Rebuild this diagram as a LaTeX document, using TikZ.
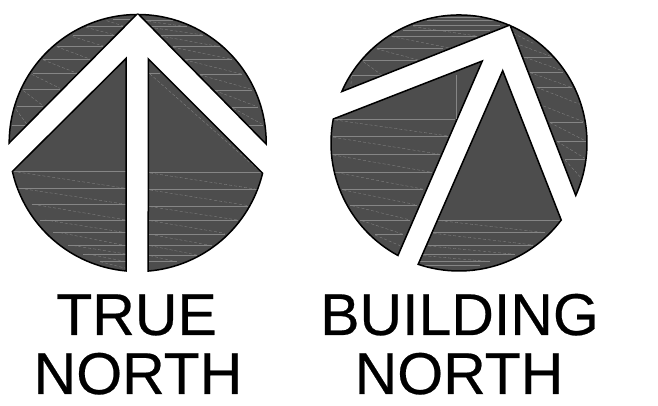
\documentclass[tikz,border=0pt]{standalone}
\usepackage{fontspec}
\setmainfont{Liberation Sans}
\newfontfamily\capfont[FakeBold=0.4]{Liberation Sans}
\tikzset{
  sector/.style={fill=sectorgrey,draw=black,line width=1.5pt,line join=miter},
  hair/.style={draw=hairgrey,line width=0.35pt},
  caption/.style={anchor=base,inner sep=0pt,font=\capfont\fontsize{59}{59}\selectfont}
}
\definecolor{sectorgrey}{HTML}{4D4D4D}
\definecolor{hairgrey}{HTML}{858585}
% #1 = origin shift for zoomed hairline coords, #2 = outline path, #3 = horizontals y/x1/x2, #4 = slants x1/y1/x2/y2
\newcommand{\sectorpiece}[4]{%
  \begin{scope}
    \clip #2;
    \fill[sectorgrey] #2;
    \begin{scope}[shift={(#1pt,406pt)},x=0.3333pt,y=-0.3333pt]
      \foreach \ya/\xa/\xb in {#3} {\draw[hair] (\xa,\ya) -- (\xb,\ya);}
      \foreach \xa/\ya/\xb/\yb in {#4} {\draw[hair,densely dashed] (\xa,\ya) -- (\xb,\yb);}
    \end{scope}
  \end{scope}
  \draw[sector,fill=none] #2;
}
\begin{document}
\begin{tikzpicture}[x=1pt,y=1pt]
\fill[white] (0,0) rectangle (658,406);
\useasboundingbox (0,0) rectangle (658,406);
\coordinate (cl) at (137.7,263);
\coordinate (cr) at (459,263);
% TRUE NORTH
\sectorpiece{0}{(cl)+(180:128.5) arc[start angle=180,end angle=90.5,radius=128.5] -- cycle}
 {375/35/80,320/50/130,268/70/180,220/100/230,178/130/270,138/170/310,107/220/345,78/260/370,58/340/390}
 {48/328/80/372,70/272/130/318,95/223/180/265,130/180/232/220,170/140/272/178,218/110/310/138,258/82/345/105,320/62/370/78}
\sectorpiece{0}{(cl)+(89.5:128.5) arc[start angle=89.5,end angle=-0.5,radius=128.5] -- cycle}
 {375/740/790,322/695/775,270/645/755,222/600/725,178/555/695,140/520/660,105/480/610,80/450/560,62/430/520}
 {700/325/785/372,645/272/772/320,600/225/755/268,555/180/725/222,520/142/695/178,480/108/660/140,450/82/610/105,430/62/560/80}
\sectorpiece{0}{(cl)+(192.8:128.5) arc[start angle=192.8,end angle=264.8,radius=128.5] -- (126,347.5) -- cycle}
 {514/38/378,565/55/378,613/95/378,660/120/378,698/160/378,737/205/378,762/250/378,785/300/378}
 {38/514/378/565,60/565/378/613,100/613/378/660,135/660/378/698,180/698/378/737,220/737/378/762,265/762/378/785,300/785/378/805}
\sectorpiece{0}{(cl)+(274.7:128.5) arc[start angle=274.7,end angle=346.4,radius=128.5] -- (148.3,347) -- cycle}
 {219/445/480,518/445/786,568/445/770,620/445/745,662/445/715,703/445/675,737/445/635,767/445/590,785/445/530}
 {450/222/770/505,450/519/765/567,450/570/745/617,450/620/712/660,450/662/675/700,450/703/635/737,450/737/590/765,450/767/530/785}
% BUILDING NORTH
\sectorpiece{320}{(cr)+(156.3:128) arc[start angle=156.3,end angle=66.9,radius=128] -- cycle}
 {225/95/185,180/130/290,145/170/370,108/215/470,90/250/510,75/280/540,60/320/540,52/350/520}
 {95/228/92/265,130/185/185/225,170/147/295/180,215/110/385/143,280/80/470/108}
\sectorpiece{320}{(cr)+(66.4:128) arc[start angle=66.4,end angle=-24.2,radius=128] -- cycle}
 {172/612/695,217/630/730,262/650/755,366/690/790,425/710/800,478/735/795}
 {580/100/640/130,600/135/695/170,615/172/730/213,630/218/755/262,650/262/780/313,670/318/790/365,690/368/797/423,712/425/795/475,735/480/780/530}
\sectorpiece{320}{(cr)+(169.2:128) arc[start angle=169.2,end angle=241.5,radius=128] -- (482.3,345) -- cycle}
 {357/40/405,410/40/385,463/35/360,517/45/335,568/65/310,615/90/290,660/120/270,703/165/250}
 {45/360/385/408,40/412/360/463,40/465/335/517,50/518/312/568,70/570/292/615,95/617/270/660,125/662/250/703,165/705/240/737}
\begin{scope}[shift={(320pt,406pt)},x=0.3333pt,y=-0.3333pt]
  \draw[hair] (410,225) -- (410,357);
\end{scope}
\sectorpiece{320}{(cr)+(251.4:128) arc[start angle=251.4,end angle=323,radius=128] -- (502.7,335.3) -- cycle}
 {660/355/722,698/340/675,735/325/640,763/310/585,785/300/510,795/300/480}
 {360/662/675/698,340/700/640/735,325/738/585/763,310/767/510/785}
% captions
\node[caption] (trueword) at (136.5,71) {TRUE};
\node[caption] (northa) at (138,12) {NORTH};
\node[caption] (buildingword) at (459.5,71) {BUILDING};
\node[caption] (northb) at (459,12) {NORTH};
\end{tikzpicture}
\end{document}
